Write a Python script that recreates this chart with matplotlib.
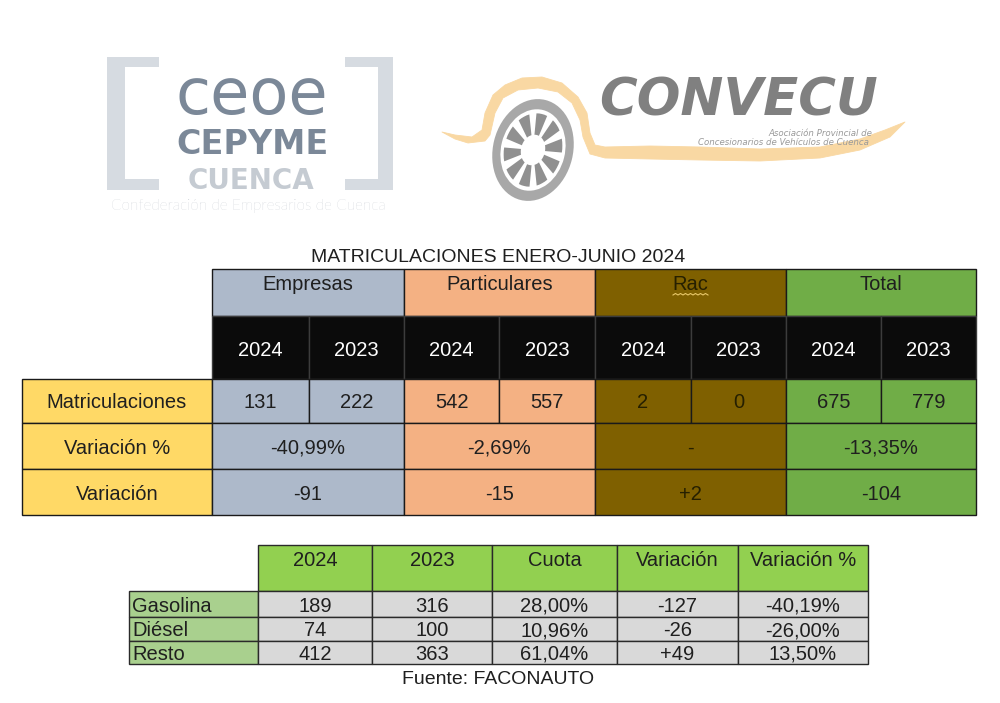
import matplotlib
matplotlib.use("Agg")
import matplotlib.pyplot as plt
from matplotlib.patches import Rectangle, Polygon, Circle, Wedge
from matplotlib.transforms import Affine2D

# datos - tabla principal
title = "MATRICULACIONES ENERO-JUNIO 2024"
groups = ["Empresas", "Particulares", "Rac", "Total"]
years = ["2024", "2023"]
row_labels = ["Matriculaciones", "Variación %", "Variación"]
matric_2024 = [131, 542, 2, 675]
matric_2023 = [222, 557, 0, 779]
var_pct = ["-40,99%", "-2,69%", "-", "-13,35%"]
var_abs = ["-91", "-15", "+2", "-104"]

# datos - combustibles
fuel_cols = ["2024", "2023", "Cuota", "Variación", "Variación %"]
fuel_labels = ["Gasolina", "Diésel", "Resto"]
fuel_2024 = [189, 74, 412]
fuel_2023 = [316, 100, 363]
fuel_cuota = ["28,00%", "10,96%", "61,04%"]
fuel_var = ["-127", "-26", "+49"]
fuel_var_pct = ["-40,19%", "-26,00%", "13,50%"]
source = "Fuente: FACONAUTO"

group_colors = ["#ADB9CA", "#F4B183", "#7F6000", "#70AD47"]
group_text = ["#1f1f1f", "#1f1f1f", "#262000", "#1f1f1f"]
FONT = ["Liberation Sans", "DejaVu Sans"]

fig = plt.figure(figsize=(10, 7.03), dpi=100)
ax = fig.add_axes([0, 0, 1, 1])
ax.set_xlim(0, 1000)
ax.set_ylim(703, 0)
ax.axis("off")


def cell(x0, y0, x1, y1, fc, ec="#1a1a1a", lw=1.0):
    ax.add_patch(Rectangle((x0, y0), x1 - x0, y1 - y0, facecolor=fc,
                           edgecolor=ec, linewidth=lw))


def txt(x, y, s, color="#1f1f1f", size=14.5, ha="center", **kw):
    ax.text(x, y, s, ha=ha, va="center_baseline", fontsize=size,
            color=color, family=FONT, **kw)


# ---- logo CEOE CEPYME ----
br = "#D6DBE1"
ax.add_patch(Polygon([(107, 57), (159, 57), (159, 67), (125, 67), (125, 179),
                      (159, 179), (159, 190), (107, 190)], fc=br, ec="none"))
ax.add_patch(Polygon([(393, 57), (345, 57), (345, 67), (378, 67), (378, 179),
                      (345, 179), (345, 190), (393, 190)], fc=br, ec="none"))
ax.text(252, 114, "ceoe", ha="center", va="baseline", fontsize=46,
        color="#7B8898", family="DejaVu Sans")
ax.text(252, 154, "CEPYME", ha="center", va="baseline", fontsize=24,
        color="#7B8898", family="DejaVu Sans", fontweight="bold")
ax.text(251, 189, "CUENCA", ha="center", va="baseline", fontsize=20,
        color="#C5CBD2", family="DejaVu Sans", fontweight="bold")
ax.text(248, 210, "Confederación de Empresarios de Cuenca", ha="center",
        va="baseline", fontsize=11, color="#B3B9C2", family=["Lato", "DejaVu Sans"],
        fontweight="light")

# ---- logo CONVECU ----
swoosh = [(442, 132), (455, 135), (472, 137), (482, 130), (485, 113), (493, 95),
          (505, 85), (522, 78), (542, 77), (562, 83), (578, 97), (587, 113),
          (590, 133), (595, 145), (605, 147), (650, 146), (700, 147), (760, 149),
          (820, 147), (860, 139), (885, 130), (905, 122), (890, 137), (860, 150),
          (820, 158), (760, 161), (700, 160), (650, 159), (605, 158), (590, 154),
          (583, 137), (580, 120), (572, 103), (558, 92), (538, 88), (518, 90),
          (503, 98), (495, 113), (490, 135), (485, 141), (468, 143), (455, 139)]
ax.add_patch(Polygon(swoosh, closed=True, fc="#F9D8A3", ec="#F9D8A3", lw=0.6,
                     joinstyle="round"))

wheel_tr = Affine2D().scale(40, 51.5).rotate_deg(14).translate(533, 150) + ax.transData
ax.add_patch(Circle((0, 0), 1.0, fc="#A8A8A8", ec="none", transform=wheel_tr))
ax.add_patch(Circle((0, 0), 0.8, fc="white", ec="none", transform=wheel_tr))
for k in range(10):
    a = 18 + 36 * k
    ax.add_patch(Wedge((0, 0), 0.72, a - 11, a + 11, width=0.42, fc="#909090",
                       ec="none", transform=wheel_tr))

ax.text(739, 115, "CONVECU", ha="center", va="baseline", fontsize=37,
        color="#808080", family="DejaVu Sans", style="oblique", fontweight="bold")
ax.text(872, 136, "Asociación Provincial de", ha="right", va="baseline",
        fontsize=6.2, color="#9A9A9A", family="DejaVu Sans", style="oblique")
ax.text(869, 145, "Concesionarios de Vehículos de Cuenca", ha="right",
        va="baseline", fontsize=6.2, color="#9A9A9A", family="DejaVu Sans",
        style="oblique")

# ---- tabla principal ----
mx = [212, 309, 404, 499, 595, 691, 786, 881, 976]
y_head, y_year = 269, 316
y_rows = [379, 423, 469, 515]

txt(498, 256, title, size=14)

for i, g in enumerate(groups):
    x0, x1 = mx[2 * i], mx[2 * i + 2]
    cell(x0, y_head, x1, y_year, group_colors[i])
    txt((x0 + x1) / 2, 283, g, color=group_text[i])

# subrayado ondulado del corrector bajo "Rac"
ax.plot([673, 675.5, 678, 680.5, 683, 685.5, 688, 690.5, 693, 695.5, 698, 700.5, 703, 705.5, 708],
        [295, 293.5, 295, 293.5, 295, 293.5, 295, 293.5, 295, 293.5, 295, 293.5, 295, 293.5, 295],
        color="#E8C86A", lw=0.8)

for j in range(8):
    cell(mx[j], y_year, mx[j + 1], y_rows[0], "#0B0B0B", ec="#3C3C3C")
    txt((mx[j] + mx[j + 1]) / 2, 348, years[j % 2], color="white")

for r, lab in enumerate(row_labels):
    cell(22, y_rows[r], 212, y_rows[r + 1], "#FFD966")
    txt(117, (y_rows[r] + y_rows[r + 1]) / 2, lab)

for i in range(len(groups)):
    x0, xm, x1 = mx[2 * i], mx[2 * i + 1], mx[2 * i + 2]
    c, tc = group_colors[i], group_text[i]
    ym = (y_rows[0] + y_rows[1]) / 2
    cell(x0, y_rows[0], xm, y_rows[1], c)
    cell(xm, y_rows[0], x1, y_rows[1], c)
    txt((x0 + xm) / 2, ym, str(matric_2024[i]), color=tc)
    txt((xm + x1) / 2, ym, str(matric_2023[i]), color=tc)
    cell(x0, y_rows[1], x1, y_rows[2], c)
    txt((x0 + x1) / 2, (y_rows[1] + y_rows[2]) / 2, var_pct[i], color=tc)
    cell(x0, y_rows[2], x1, y_rows[3], c)
    txt((x0 + x1) / 2, (y_rows[2] + y_rows[3]) / 2, var_abs[i], color=tc)

# ---- tabla combustibles ----
fx = [258, 372, 492, 617, 738, 868]
fy = [591, 617, 641, 664]

for j, col in enumerate(fuel_cols):
    cell(fx[j], 545, fx[j + 1], fy[0], "#92D050", ec="#2a2a2a")
    txt((fx[j] + fx[j + 1]) / 2, 558, col)

columns = [fuel_2024, fuel_2023, fuel_cuota, fuel_var, fuel_var_pct]
for r, lab in enumerate(fuel_labels):
    y0, y1 = fy[r], fy[r + 1]
    cell(129, y0, fx[0], y1, "#A9D08E", ec="#2a2a2a")
    txt(132, (y0 + y1) / 2, lab, ha="left")
    for j, vals in enumerate(columns):
        cell(fx[j], y0, fx[j + 1], y1, "#D9D9D9", ec="#2a2a2a")
        txt((fx[j] + fx[j + 1]) / 2, (y0 + y1) / 2, str(vals[r]))

txt(498, 678, source, size=14)

fig.savefig("out.png", dpi=100)
